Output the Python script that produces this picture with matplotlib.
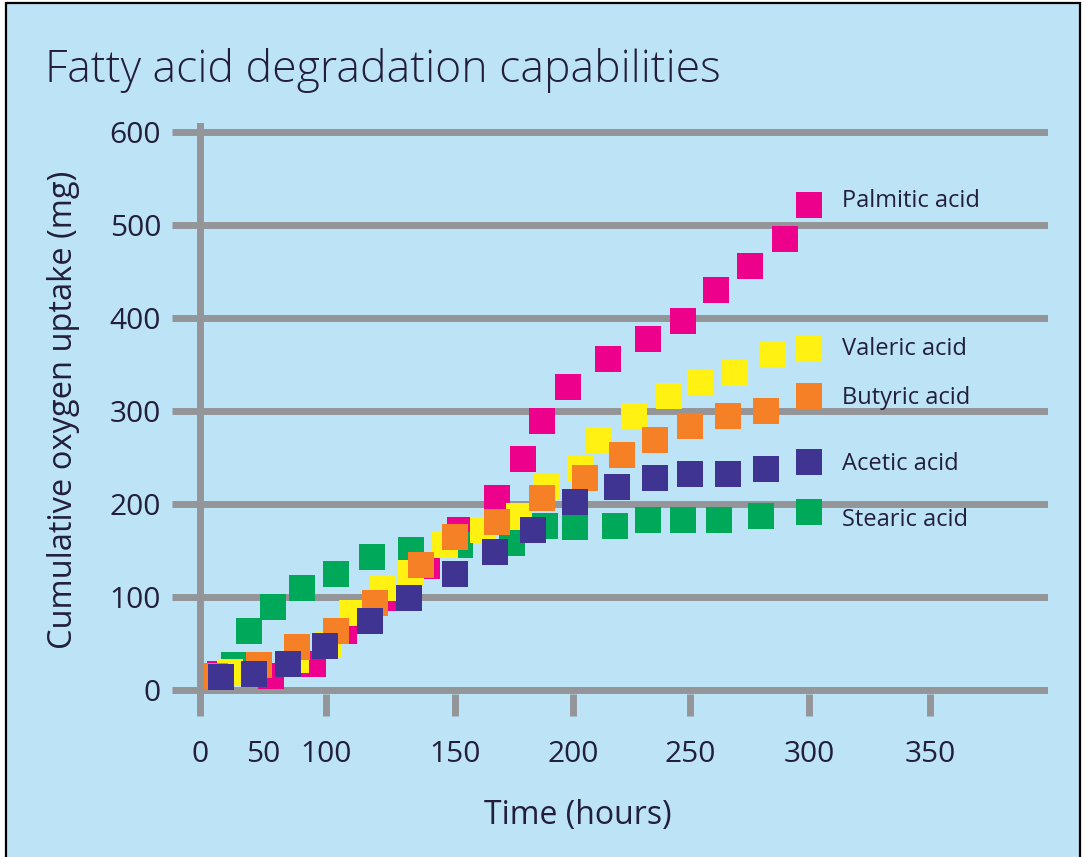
import numpy as np
import matplotlib
matplotlib.use("Agg")
import matplotlib.pyplot as plt
from matplotlib.patches import Rectangle

# values (time in hours, cumulative O2 uptake in mg)
palmitic_t = [16, 56, 90, 107, 122, 139, 152, 168, 179, 187, 198, 215, 232, 247, 261, 275, 290, 300]
palmitic_y = [17, 15, 28, 63, 99, 134, 172, 207, 249, 290, 326, 356, 378, 397, 430, 456, 485, 522]

stearic_t = [27, 39, 58, 81, 104, 118, 133, 152, 174, 188, 201, 218, 232, 247, 262, 280, 300]
stearic_y = [27, 63, 89, 110, 125, 143, 151, 156, 158, 176, 175, 176, 183, 183, 183, 187, 192]

valeric_t = [24, 76, 101, 110, 122, 133, 146, 162, 177, 189, 203, 211, 226, 241, 254, 269, 285, 300]
valeric_y = [19, 32, 48, 83, 110, 126, 156, 172, 187, 218, 238, 269, 295, 316, 331, 341, 362, 367]

butyric_t = [12, 47, 77, 104, 119, 137, 150, 168, 187, 205, 221, 235, 250, 266, 282, 300]
butyric_y = [15, 27, 46, 63, 94, 135, 165, 181, 207, 228, 253, 269, 284, 295, 300, 316]

acetic_t = [17, 43, 70, 99, 117, 132, 150, 167, 183, 201, 219, 235, 250, 266, 282, 300]
acetic_y = [14, 17, 28, 47, 74, 99, 125, 149, 172, 202, 218, 228, 233, 233, 238, 245]

names = ["Palmitic acid", "Stearic acid", "Valeric acid", "Butyric acid", "Acetic acid"]
times = [palmitic_t, stearic_t, valeric_t, butyric_t, acetic_t]
uptakes = [palmitic_y, stearic_y, valeric_y, butyric_y, acetic_y]
colors = ["#EC008C", "#00A85A", "#FFF212", "#F58026", "#403492"]
label_offsets = [(24, 3), (24, -6), (24, 0), (24, -1), (24, -1)]

xticks = [0, 100, 150, 200, 250, 300, 350]
yticks = [0, 100, 200, 300, 400, 500, 600]

# the printed time axis is not linear: 0-100 h is squeezed
scale_hours = [-100, 0, 100, 150, 200, 250, 300, 350, 400, 500]
scale_pos = [74, 200, 326, 455, 573, 690, 809, 930, 1048, 1290]


def forward(h):
    return np.interp(h, scale_hours, scale_pos)


def inverse(p):
    return np.interp(p, scale_pos, scale_hours)


bg = "#BDE4F6"
grey = "#949599"
ink = "#231F3A"
plt.rcParams["font.family"] = ["Open Sans", "DejaVu Sans"]

fig = plt.figure(figsize=(10.86, 8.57), dpi=100, facecolor="white")
fig.patches.append(Rectangle((6 / 1086, -0.01), 1074 / 1086, 1.0 - 3 / 857 + 0.01,
                             transform=fig.transFigure, facecolor=bg,
                             edgecolor="black", linewidth=1.6, zorder=-10))

ax = fig.add_axes([200 / 1086, 0.1905, 848 / 1086, 0.6625])
ax.set_facecolor("none")
ax.set_xscale("function", functions=(forward, inverse))
ax.set_xlim(0, 400)
ax.set_ylim(-4, 607)

for name, t, y, c, off in zip(names, times, uptakes, colors, label_offsets):
    ax.plot(t, y, "s", ms=19, mew=0, color=c, clip_on=False)
    ax.annotate(name, xy=(t[-1], y[-1]), xytext=off, textcoords="offset points",
                ha="left", va="center", fontsize=17, color=ink)

ax.set_yticks(yticks)
ax.set_xticks(xticks)
ax.set_xticks([50], labels=["50"], minor=True)
ax.yaxis.grid(True, color=grey, linewidth=5)
ax.set_axisbelow(True)
for s in ["top", "right", "bottom"]:
    ax.spines[s].set_visible(False)
ax.spines["left"].set_color(grey)
ax.spines["left"].set_linewidth(5)

ax.tick_params(axis="y", length=20, width=5, color=grey, pad=8, labelsize=21.5, labelcolor=ink)
ax.tick_params(axis="x", which="major", length=16, width=5, color=grey, pad=17,
               labelsize=21.5, labelcolor=ink)
ax.tick_params(axis="x", which="minor", length=0, pad=33, labelsize=21.5, labelcolor=ink)

ax.set_xlabel("Time (hours)", fontsize=23, color=ink)
ax.xaxis.set_label_coords(0.446, -0.185)
ax.set_ylabel("Cumulative oxygen uptake (mg)", fontsize=23.5, color=ink)
ax.yaxis.set_label_coords(-0.141, 0.5)

fig.text(45 / 1086, 1 - 82 / 857, "Fatty acid degradation capabilities",
         fontsize=32, color=ink, ha="left", va="baseline", fontweight="light")

fig.savefig("out.png", dpi=100, facecolor=fig.get_facecolor())
